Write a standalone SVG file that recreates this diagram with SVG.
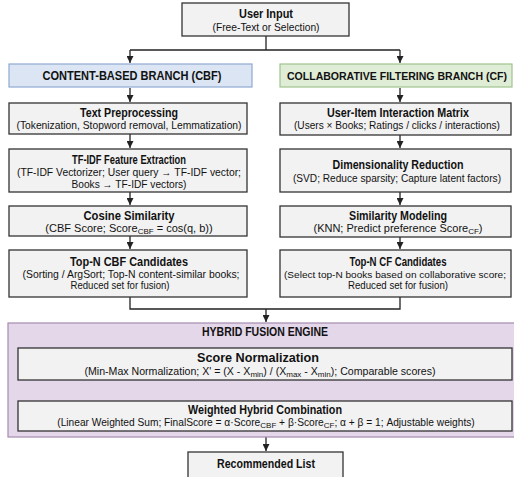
<svg xmlns="http://www.w3.org/2000/svg" width="514" height="477" viewBox="0 0 514 477">
<style>
text{font-family:"Liberation Sans",Arial,sans-serif;fill:#111;text-anchor:middle}
.t{font-size:12px;font-weight:bold}
.s{font-size:11px}
.s2{font-size:10.3px}
.s3{font-size:9.8px}
.h{font-size:12px;font-weight:bold}
.h2{font-size:10px;font-weight:bold}
.box{fill:#f2f2f2;stroke:#333;stroke-width:1.3}
.ln{fill:none;stroke:#222;stroke-width:1.3}
.sb{font-size:8px}
</style>
<defs>
<marker id="ar" viewBox="0 0 10 10" refX="10" refY="5" markerWidth="7" markerHeight="7" markerUnits="userSpaceOnUse" orient="auto">
<path d="M0,0 L10,5 L0,10 z" fill="#222"/>
</marker>
</defs>
<rect width="514" height="477" fill="#fff"/>

<g id="connectors">
<path class="ln" d="M266,36 V50"/>
<path class="ln" d="M130,50 H400"/>
<path class="ln" d="M130,50 V63" marker-end="url(#ar)"/>
<path class="ln" d="M400,50 V63" marker-end="url(#ar)"/>
<path class="ln" d="M130,88 V102" marker-end="url(#ar)"/>
<path class="ln" d="M400,88 V102" marker-end="url(#ar)"/>
<path class="ln" d="M130,134 V148" marker-end="url(#ar)"/>
<path class="ln" d="M130,192 V205" marker-end="url(#ar)"/>
<path class="ln" d="M130,236 V249" marker-end="url(#ar)"/>
<path class="ln" d="M400,135 V148" marker-end="url(#ar)"/>
<path class="ln" d="M400,192 V205" marker-end="url(#ar)"/>
<path class="ln" d="M400,237 V249" marker-end="url(#ar)"/>
<path class="ln" d="M130,297 V309 H400 V297"/>
<path class="ln" d="M266,309 V322" marker-end="url(#ar)"/>
<path class="ln" d="M266,380 V400" marker-end="url(#ar)"/>
<path class="ln" d="M266,431 V451" marker-end="url(#ar)"/>
</g>

<g id="user-input">
<rect class="box" x="182" y="3" width="167" height="33"/>
<text class="t" x="266" y="18" textLength="54" lengthAdjust="spacingAndGlyphs">User Input</text>
<text class="s" x="266" y="31" textLength="107" lengthAdjust="spacingAndGlyphs">(Free-Text or Selection)</text>
</g>

<g id="cbf-header">
<rect x="9" y="64" width="243" height="23" fill="#dbe5f3" stroke="#8fa9d3" stroke-width="1.2"/>
<text class="h" x="132" y="80" textLength="179" lengthAdjust="spacingAndGlyphs">CONTENT-BASED BRANCH (CBF)</text>
</g>

<g id="cf-header">
<rect x="280" y="64" width="232" height="23" fill="#dfecd6" stroke="#a0c48c" stroke-width="1.2"/>
<text class="h2" x="397" y="80" textLength="220" lengthAdjust="spacingAndGlyphs">COLLABORATIVE FILTERING BRANCH (CF)</text>
</g>

<g id="text-preprocessing">
<rect class="box" x="9" y="103" width="238" height="31"/>
<text class="t" x="129" y="117" textLength="98" lengthAdjust="spacingAndGlyphs">Text Preprocessing</text>
<text class="s" x="129" y="129" textLength="225" lengthAdjust="spacingAndGlyphs">(Tokenization, Stopword removal, Lemmatization)</text>
</g>

<g id="tfidf">
<rect class="box" x="9" y="149" width="238" height="43"/>
<text class="t" x="129" y="164" textLength="114" lengthAdjust="spacingAndGlyphs">TF-IDF Feature Extraction</text>
<text class="s" x="129" y="176" textLength="224" lengthAdjust="spacingAndGlyphs">(TF-IDF Vectorizer; User query → TF-IDF vector;</text>
<text class="s" x="129" y="188" textLength="115" lengthAdjust="spacingAndGlyphs">Books → TF-IDF vectors)</text>
</g>

<g id="cosine">
<rect class="box" x="9" y="206" width="238" height="30"/>
<text class="t" x="129" y="220" textLength="91" lengthAdjust="spacingAndGlyphs">Cosine Similarity</text>
<text class="s" x="129" y="232">(CBF Score; Score<tspan class="sb" dy="2">CBF</tspan><tspan dy="-2"> = cos(q, b))</tspan></text>
</g>

<g id="topn-cbf">
<rect class="box" x="9" y="250" width="238" height="47"/>
<text class="t" x="129" y="266" textLength="118" lengthAdjust="spacingAndGlyphs">Top-N CBF Candidates</text>
<text class="s" x="131" y="278" textLength="217" lengthAdjust="spacingAndGlyphs">(Sorting / ArgSort; Top-N content-similar books;</text>
<text class="s" x="120" y="289" textLength="99" lengthAdjust="spacingAndGlyphs">Reduced set for fusion)</text>
</g>

<g id="ui-matrix">
<rect class="box" x="280" y="103" width="231" height="32"/>
<text class="t" x="398" y="117" textLength="142" lengthAdjust="spacingAndGlyphs">User-Item Interaction Matrix</text>
<text class="s2" x="397" y="129" textLength="206" lengthAdjust="spacingAndGlyphs">(Users × Books; Ratings / clicks / interactions)</text>
</g>

<g id="dim-reduction">
<rect class="box" x="280" y="149" width="231" height="43"/>
<text class="t" x="398" y="169" textLength="131" lengthAdjust="spacingAndGlyphs">Dimensionality Reduction</text>
<text class="s2" x="397" y="182" textLength="208" lengthAdjust="spacingAndGlyphs">(SVD; Reduce sparsity; Capture latent factors)</text>
</g>

<g id="similarity-modeling">
<rect class="box" x="280" y="206" width="231" height="31"/>
<text class="t" x="398" y="220" textLength="98" lengthAdjust="spacingAndGlyphs">Similarity Modeling</text>
<text class="s" x="398" y="232">(KNN; Predict preference Score<tspan class="sb" dy="2">CF</tspan><tspan dy="-2">)</tspan></text>
</g>

<g id="topn-cf">
<rect class="box" x="280" y="250" width="231" height="47"/>
<text class="t" x="398" y="266" textLength="97" lengthAdjust="spacingAndGlyphs">Top-N CF Candidates</text>
<text class="s3" x="395" y="278" textLength="222" lengthAdjust="spacingAndGlyphs">(Select top-N books based on collaborative score;</text>
<text class="s" x="398" y="289" textLength="100" lengthAdjust="spacingAndGlyphs">Reduced set for fusion)</text>
</g>

<g id="hybrid-fusion-engine">
<rect x="8" y="323" width="510" height="114" fill="#e4d7ea" stroke="#a58bb0" stroke-width="1.2"/>
<text class="h" x="265" y="336" textLength="126" lengthAdjust="spacingAndGlyphs">HYBRID FUSION ENGINE</text>
</g>

<g id="score-normalization">
<rect class="box" x="18" y="348" width="494" height="32"/>
<text class="t" x="258" y="362" textLength="122" lengthAdjust="spacingAndGlyphs">Score Normalization</text>
<text x="260" y="375" style="font-size:10.6px">(Min-Max Normalization; X' = (X - X<tspan class="sb" dy="2">min</tspan><tspan dy="-2">) / (X</tspan><tspan class="sb" dy="2">max</tspan><tspan dy="-2"> - X</tspan><tspan class="sb" dy="2">min</tspan><tspan dy="-2">); Comparable scores)</tspan></text>
</g>

<g id="weighted-combination">
<rect class="box" x="18" y="401" width="494" height="30"/>
<text class="t" x="265" y="414" textLength="154" lengthAdjust="spacingAndGlyphs">Weighted Hybrid Combination</text>
<text x="266" y="426" style="font-size:10.2px">(Linear Weighted Sum; FinalScore = α·Score<tspan class="sb" dy="2">CBF</tspan><tspan dy="-2"> + β·Score</tspan><tspan class="sb" dy="2">CF</tspan><tspan dy="-2">; α + β = 1; Adjustable weights)</tspan></text>
</g>

<g id="recommended-list">
<rect class="box" x="188" y="452" width="155" height="26"/>
<text class="t" x="266" y="468" textLength="98" lengthAdjust="spacingAndGlyphs">Recommended List</text>
</g>
</svg>
